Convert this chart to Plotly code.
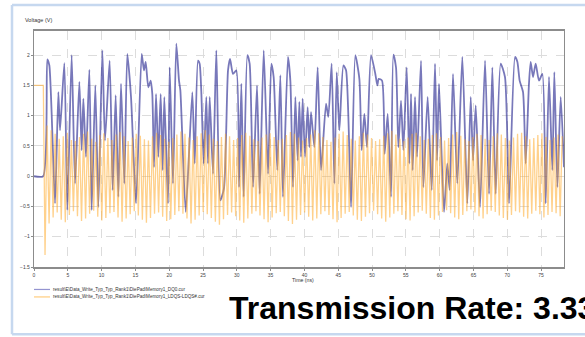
import numpy as np
import plotly.graph_objects as go

# ---- DQ0 waveform: turning points (time in ns, voltage in V) ----
dq0_time = [
    0, 1.35, 1.97, 2.27, 3.11, 3.6, 3.85, 4.49, 4.93, 5.57, 6.07, 6.71, 7.05, 7.3, 7.69,
    8.19, 8.53, 9.07, 9.52, 10.11, 10.5, 11.19, 11.64, 12.08, 12.48, 12.87, 13.36, 13.8,
    14.35, 15.09, 15.93, 16.27, 16.52, 16.91, 17.26, 17.5, 17.75, 18.05, 18.39, 18.74,
    19.03, 19.28,
    19.82, 20.07, 20.56, 21.05, 21.45, 21.65, 22.44, 23.42, 23.77, 24.26, 24.5, 24.75,
    25.1, 25.49, 25.74, 25.99, 26.48, 26.97, 27.56, 28.1, 28.7, 29.0, 29.44, 29.93, 30.33,
    30.67, 31.01, 31.56, 31.9, 32.4, 32.99, 33.38, 33.98, 34.62, 35.11, 35.45, 35.99,
    36.44, 36.83, 37.57, 37.92, 38.31, 38.66,
    39.0, 39.25, 39.5, 39.74, 40.09, 40.48, 40.73, 40.98, 41.47, 41.96, 42.46, 43.2,
    43.54, 44.03, 44.43, 44.78, 45.17, 45.77, 46.16, 46.9, 47.53, 48.13, 48.47, 48.87,
    49.26, 49.85, 50.49, 50.79, 50.99, 51.48, 51.87, 52.32, 52.81, 53.16, 53.55, 53.9,
    54.29, 54.64, 55.13, 55.52, 55.77, 56.01, 56.36, 56.66, 57.25, 57.59, 58.23,
    58.83, 59.32, 59.62, 59.91, 60.65, 61.14, 61.49, 61.98, 62.62, 63.36, 64.1, 64.6,
    64.94, 65.34, 65.98, 66.72, 67.31, 67.8, 68.29, 69.03, 69.67, 70.27, 71.15, 71.5,
    71.84, 72.34, 72.73, 73.22, 73.47, 73.82, 74.21, 74.7, 75.2, 75.69, 76.18, 76.68,
    76.97, 77.42, 77.91, 78.4,
]
dq0_volt = [
    0, 0, 1.93, 1.83, -0.45, 1.39, 0.76, 1.87, -0.56, 2.0, -0.12, 1.56, 0.43, 1.28, 0.32,
    1.76, -0.56, 1.5, -0.51, 2.08, 0.59, 1.91, -0.23, 1.34, -0.34, 1.53, -0.12, 2.02,
    1.31, -0.45, 2.02, 1.75, 1.89, 1.47, 1.58, 1.36, 0.15, 1.36, 0.32, 1.36,
    0.1, 1.31,
    -0.45, 1.8, -0.12, 2.19, 1.58, 1.42, -0.59, 1.39, 0.21, 1.91, 1.86, 1.39,
    0.21, 1.31, 0.21, 1.31, 0.04, 2.08, -0.4, -0.2, 1.75, 1.94, 1.69, 1.75, -0.18,
    1.53, -0.34, 2.0, 1.86, -0.18, 1.5, -0.29, 2.08, 0.04, 1.86, 1.64, 0.1,
    1.67, -0.34, 1.97, 1.58, -0.18, 1.31,
    0.26, 1.23, 0.32, 1.28, 0.32, 1.14, 0.48, 1.06, 0.48, 1.8, 0.1, 1.2,
    0.98, 1.86, -0.12, 1.72, 0.76, 1.83, 1.75, -0.51, 2.0, 1.61, 0.43, 1.03,
    0.48, 2.0, 1.69, 1.5, 1.61, 1.58, 0.37, 1.03, -0.34, 2.01, 1.8, 0.48,
    1.25, 0.43, 1.8, 0.21, 1.36, 0.1, 1.31, 0.32, 1.91, -0.18, 1.31,
    -0.23, 1.86, 0.26, 1.53, -0.59, 0.21, -0.23, 1.69, -0.12, 1.97, -0.45, 1.31,
    0.26, 1.17, -0.51, 1.91, -0.29, 1.8, -0.29, 1.86, 1.64, -0.45, 1.97, 1.89,
    1.58, 1.39, 0.21, 1.53, 1.89, 1.64, 1.86, 1.58, 1.69, -0.45, 1.64, 0.1,
    1.72, -0.18, 1.31, 0.15,
]

# ---- LDQS-LDQS# strobe: preamble level, then per-cycle high / low peaks ----
dqs_preamble = 1.5
dqs_preamble_end_ns = 1.38
dqs_first_edge_ns = 1.63
dqs_period_ns = 0.6

dqs_high = [
    0.84, 0.76, 0.70, 0.62, 0.66, 0.72, 0.60, 0.58, 0.65, 0.70,
    0.74, 0.62, 0.57, 0.68, 0.71, 0.63, 0.60, 0.69, 0.73, 0.66,
    0.58, 0.64, 0.70, 0.67, 0.61, 0.59, 0.66, 0.72, 0.68, 0.62,
    0.57, 0.63, 0.69, 0.74, 0.70, 0.64, 0.60, 0.66, 0.71, 0.76,
    0.69, 0.62, 0.58, 0.65, 0.70, 0.66, 0.60, 0.63, 0.68, 0.72,
    0.67, 0.61, 0.58, 0.64, 0.69, 0.71, 0.65, 0.60, 0.62, 0.68,
    0.73, 0.70, 0.64, 0.59, 0.63, 0.69, 0.76, 0.71, 0.65, 0.60,
    0.57, 0.64, 0.70, 0.74, 0.68, 0.62, 0.59, 0.66, 0.72, 0.69,
    0.63, 0.58, 0.61, 0.67, 0.71, 0.75, 0.69, 0.62, 0.58, 0.64,
    0.70, 0.72, 0.66, 0.60, 0.62, 0.68, 0.71, 0.65, 0.59, 0.63,
    0.69, 0.73, 0.67, 0.61, 0.58, 0.65, 0.70, 0.68, 0.62, 0.60,
    0.66, 0.71, 0.69, 0.63, 0.59, 0.64, 0.70, 0.72, 0.66, 0.61,
    0.63, 0.68, 0.71, 0.65, 0.60, 0.64, 0.69, 0.66,
]
dqs_low = [
    -1.30, -0.78, -0.68, -0.60, -0.72, -0.76, -0.64, -0.58, -0.66, -0.74,
    -0.70, -0.62, -0.57, -0.67, -0.73, -0.69, -0.61, -0.59, -0.68, -0.75,
    -0.70, -0.63, -0.58, -0.65, -0.72, -0.77, -0.69, -0.62, -0.60, -0.67,
    -0.74, -0.71, -0.64, -0.58, -0.62, -0.70, -0.78, -0.72, -0.65, -0.59,
    -0.63, -0.69, -0.75, -0.80, -0.71, -0.64, -0.60, -0.66, -0.73, -0.77,
    -0.70, -0.62, -0.58, -0.65, -0.71, -0.76, -0.68, -0.61, -0.59, -0.66,
    -0.74, -0.79, -0.72, -0.64, -0.60, -0.67, -0.73, -0.70, -0.63, -0.58,
    -0.64, -0.71, -0.76, -0.69, -0.62, -0.59, -0.65, -0.72, -0.74, -0.67,
    -0.61, -0.57, -0.63, -0.70, -0.75, -0.68, -0.62, -0.58, -0.64, -0.71,
    -0.73, -0.66, -0.60, -0.57, -0.62, -0.69, -0.72, -0.65, -0.59, -0.56,
    -0.61, -0.68, -0.71, -0.64, -0.58, -0.55, -0.60, -0.66, -0.70, -0.63,
    -0.57, -0.59, -0.65, -0.69, -0.72, -0.64, -0.58, -0.60, -0.67, -0.70,
    -0.62, -0.57, -0.63, -0.68, -0.64, -0.59, -0.61, -0.66,
]

x_ticks = [0, 5, 10, 15, 20, 25, 30, 35, 40, 45, 50, 55, 60, 65, 70, 75]
y_ticks = [-1.5, -1, -0.5, 0, 0.5, 1, 1.5, 2]

legend_names = [
    "result\\E\\Data_Write_Typ_Typ_Rank1\\DiePad\\Memory1_DQ0.cur",
    "result\\E\\Data_Write_Typ_Typ_Rank1\\DiePad\\Memory1_LDQS-LDQS#.cur",
]
caption = "Transmission Rate: 3.33"

# strobe trace: flat preamble, then alternating low/high every half period
dqs_t = [0.0, dqs_preamble_end_ns]
dqs_v = [dqs_preamble, dqs_preamble]
for k, (lo, hi) in enumerate(zip(dqs_low, dqs_high)):
    t0 = dqs_first_edge_ns + k * dqs_period_ns
    dqs_t += [t0, t0 + dqs_period_ns / 2]
    dqs_v += [lo, hi]

BLUE = "rgba(30,30,140,0.6)"
ORANGE = "rgba(255,172,45,0.55)"

fig = go.Figure()
fig.add_trace(go.Scatter(x=dq0_time, y=dq0_volt, mode="lines",
                         line=dict(color=BLUE, width=1.8, shape="spline", smoothing=0.6),
                         hoverinfo="skip", showlegend=False))
fig.add_trace(go.Scatter(x=dqs_t, y=dqs_v, mode="lines",
                         line=dict(color=ORANGE, width=1.3),
                         hoverinfo="skip", showlegend=False))

# plot-area box in page pixels
L, R, T, B = 34, 564, 31, 267.5
W, H = 585, 337


def px(x):
    return (x - L) / (R - L)


def py(y):
    return (B - y) / (B - T)


shapes = []
frame = "#c6d8ef"
for (x0, y0, x1, y1) in [(12, 5, 585, 5), (12, 5, 12, 335), (12, 335, 585, 335)]:
    shapes.append(dict(type="line", xref="paper", yref="paper",
                       x0=px(x0), y0=py(y0), x1=px(x1), y1=py(y1),
                       line=dict(color=frame, width=2.5)))
# legend swatches
for yy, col in [(290, "rgba(60,60,170,0.55)"), (297.5, "rgba(255,170,40,0.6)")]:
    shapes.append(dict(type="line", xref="paper", yref="paper",
                       x0=px(34), y0=py(yy), x1=px(50), y1=py(yy),
                       line=dict(color=col, width=1.2)))

annotations = [
    dict(text="Voltage (V)", x=px(23), y=py(19.5), xanchor="left", yanchor="middle",
         font=dict(size=5.5, color="#333")),
    dict(text="Time (ns)", x=px(303), y=py(281), xanchor="center", yanchor="middle",
         font=dict(size=5.2, color="#333")),
    dict(text=legend_names[0], x=px(51), y=py(290), xanchor="left", yanchor="middle",
         font=dict(size=4.6, color="#333")),
    dict(text=legend_names[1], x=px(51), y=py(297.5), xanchor="left", yanchor="middle",
         font=dict(size=4.6, color="#333")),
    dict(text="<b>" + caption + "</b>", x=px(227), y=py(309), xanchor="left",
         yanchor="middle", font=dict(size=32, color="#000", family="Liberation Sans")),
]
for a in annotations:
    a.update(xref="paper", yref="paper", showarrow=False)

fig.update_layout(
    width=W, height=H,
    margin=dict(l=L, r=W - R, t=T, b=H - B, pad=0),
    paper_bgcolor="white", plot_bgcolor="white",
    font=dict(family="Liberation Sans, Arial, sans-serif", color="#444"),
    shapes=shapes, annotations=annotations,
    xaxis=dict(range=[0, 78.4], tickvals=x_ticks, tickfont=dict(size=5, color="#444"),
               showgrid=True, gridcolor="#dcdcdc", griddash="dash", gridwidth=1,
               zeroline=False, showline=True, linecolor="#8c8c8c", linewidth=1.5,
               mirror=True, ticks="outside", ticklen=2, tickcolor="#8c8c8c"),
    yaxis=dict(range=[-1.5, 2.4], tickvals=y_ticks, tickfont=dict(size=5, color="#444"),
               showgrid=True, gridcolor="#dcdcdc", griddash="dash", gridwidth=1,
               zeroline=False, showline=True, linecolor="#8c8c8c", linewidth=1.2,
               mirror=True, ticks="outside", ticklen=2, tickcolor="#8c8c8c"),
)

fig.write_html("out.html")
